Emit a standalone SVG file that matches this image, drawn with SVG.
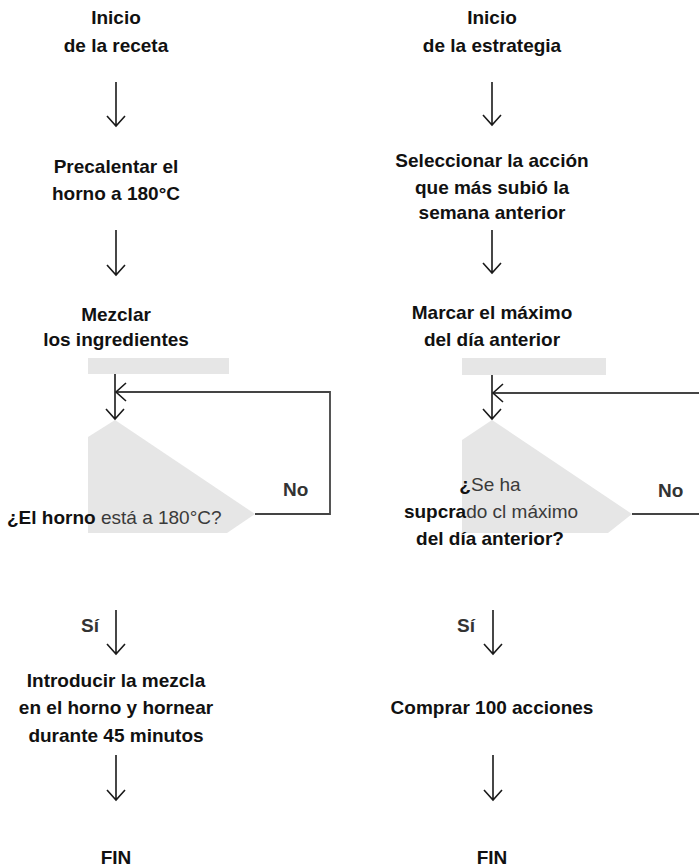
<svg xmlns="http://www.w3.org/2000/svg" width="699" height="868" viewBox="0 0 699 868">
<style>
text{font-family:"Liberation Sans",Arial,sans-serif;font-size:19px;font-weight:bold;fill:#111;text-anchor:middle}
.lt{font-weight:normal;fill:#3a3a3a}
.lbl{font-weight:bold;fill:#333;text-anchor:start}
.start{text-anchor:start}
.shape{fill:#e6e6e6;stroke:none}
.ln{fill:none;stroke:#1a1a1a;stroke-width:1.6}
.loop{fill:none;stroke:#444;stroke-width:1.8}
</style>
<rect width="699" height="868" fill="#fff"/>
<g id="left-start"><text x="116" y="24">Inicio</text><text x="116" y="52">de la receta</text></g>
<g id="left-preheat"><text x="116" y="173">Precalentar el</text><text x="116" y="200">horno a 180°C</text></g>
<g id="left-mix"><text x="116" y="321">Mezclar</text><text x="116" y="346">los ingredientes</text></g>
<g id="left-bar"><rect class="shape" x="88" y="358" width="141" height="16"/></g>
<g id="left-decision"><polygon class="shape" points="88,437 115,420 255,514 227,533 88,533"/><text class="start" x="7" y="524">¿El horno<tspan class="lt"> está a 180°C?</tspan></text></g>
<g id="left-bake"><text x="116" y="687">Introducir la mezcla</text><text x="116" y="714">en el horno y hornear</text><text x="116" y="742">durante 45 minutos</text></g>
<g id="left-end"><text x="116" y="864">FIN</text></g>

<g id="right-start"><text x="492" y="24">Inicio</text><text x="492" y="52">de la estrategia</text></g>
<g id="right-select"><text x="492" y="167">Seleccionar la acción</text><text x="492" y="194">que más subió la</text><text x="492" y="219">semana anterior</text></g>
<g id="right-mark"><text x="492" y="319">Marcar el máximo</text><text x="492" y="346">del día anterior</text></g>
<g id="right-bar"><rect class="shape" x="462" y="358" width="144" height="17"/></g>
<g id="right-decision"><polygon class="shape" points="462,440 492,420 632,514 608,533 462,533"/><text x="490" y="491">¿<tspan class="lt">Se ha</tspan></text><text x="491" y="518">supcra<tspan class="lt">do cl máximo</tspan></text><text x="490" y="545">del día anterior?</text></g>
<g id="right-buy"><text x="492" y="714">Comprar 100 acciones</text></g>
<g id="right-end"><text x="492" y="864">FIN</text></g>

<g id="connectors">
<path class="ln" d="M116,82V126M107,116L116,126L125,116"/>
<path class="ln" d="M116,230V275M107,265L116,275L125,265"/>
<path class="ln" d="M115,374V419M106,409L115,419L124,409"/>
<path class="loop" d="M255,514H330V392H116"/>
<path class="ln" d="M126,383L116,392L126,401"/>
<text class="lbl" x="283" y="496">No</text>
<text class="lbl" x="81" y="632">Sí</text>
<path class="ln" d="M116,610V654M107,644L116,654L125,644"/>
<path class="ln" d="M116,755V800M107,790L116,800L125,790"/>

<path class="ln" d="M492,82V125M483,115L492,125L501,115"/>
<path class="ln" d="M492,230V273M483,263L492,273L501,263"/>
<path class="ln" d="M492,375V419M483,409L492,419L501,409"/>
<path class="loop" d="M632,514H720V393H493"/>
<path class="ln" d="M503,384L493,393L503,402"/>
<text class="lbl" x="658" y="497">No</text>
<text class="lbl" x="457" y="632">Sí</text>
<path class="ln" d="M493,610V654M484,644L493,654L502,644"/>
<path class="ln" d="M493,755V800M484,790L493,800L502,790"/>
</g>
</svg>
